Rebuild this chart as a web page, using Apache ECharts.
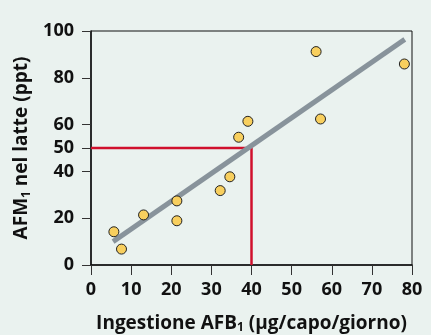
<!DOCTYPE html>
<html><head><meta charset="utf-8">
<script src="https://cdn.jsdelivr.net/npm/echarts@6/dist/echarts.min.js"></script>
<style>html,body{margin:0;padding:0;background:#EAF2EF;}#c{width:431px;height:335px;}</style>
</head><body><div id="c"></div>
<script>
var pointsX = [5.7, 7.6, 13.1, 21.4, 21.4, 32.2, 34.6, 36.8, 39.1, 56.1, 57.2, 78.1];
var pointsY = [14.2, 6.8, 21.4, 27.4, 18.9, 31.8, 37.7, 54.6, 61.4, 91.2, 62.4, 85.9];
var fitX = [5.5, 78.2];
var fitY = [10, 96.4];
var refX = [0, 40, 40];
var refY = [50, 50, 0];
var xTicks = [0, 10, 20, 30, 40, 50, 60, 70, 80];
var yTicks = [0, 20, 40, 50, 60, 80, 100];

function zip(a, b) { return a.map(function (v, i) { return [v, b[i]]; }); }

var font = 'Open Sans';
var chart = echarts.init(document.getElementById('c'));
chart.setOption({
  backgroundColor: '#EAF2EF',
  animation: false,
  grid: { left: 91, right: 19, top: 31, bottom: 70, show: true, borderColor: '#111', borderWidth: 1, backgroundColor: 'transparent', containLabel: false, outerBoundsMode: 'none' },
  xAxis: {
    type: 'value', min: 0, max: 80, interval: 10,
    axisLine: { lineStyle: { color: '#111', width: 1.5 } },
    axisTick: { length: 10, lineStyle: { color: '#333', width: 1 } },
    axisLabel: { margin: 16, color: '#111', fontFamily: font, fontWeight: 'bold', fontSize: 18, customValues: xTicks },
    splitLine: { show: false },
    name: 'Ingestione AFB{sub|1} (μg/capo/giorno)',
    nameLocation: 'middle', nameGap: 48,
    nameTextStyle: { color: '#111', fontFamily: font, fontWeight: 'bold', fontSize: 19,
      rich: { sub: { fontSize: 12, fontFamily: font, fontWeight: 'bold', color: '#111', padding: [9, 0, 0, 0] } } }
  },
  yAxis: {
    type: 'value', min: 0, max: 100, interval: 10,
    axisLine: { show: true, lineStyle: { color: '#111', width: 1.5 } },
    axisTick: { show: true, length: 9, customValues: yTicks, lineStyle: { color: '#333', width: 1 } },
    axisLabel: { margin: 17, color: '#111', fontFamily: font, fontWeight: 'bold', fontSize: 18, customValues: yTicks },
    splitLine: { show: false },
    name: 'AFM{sub|1} nel latte (ppt)',
    nameLocation: 'middle', nameGap: 54, nameRotate: 90,
    nameTextStyle: { color: '#111', fontFamily: font, fontWeight: 'bold', fontSize: 19,
      rich: { sub: { fontSize: 12, fontFamily: font, fontWeight: 'bold', color: '#111', padding: [9, 0, 0, 0] } } }
  },
  series: [
    { type: 'line', data: zip(refX, refY), symbol: 'none', lineStyle: { color: '#D0102C', width: 2.5 }, z: 2 },
    { type: 'line', data: zip(fitX, fitY), symbol: 'none', lineStyle: { color: '#88939B', width: 5 }, z: 3 },
    { type: 'scatter', data: zip(pointsX, pointsY), symbolSize: 10,
      itemStyle: { color: '#F8CF5E', borderColor: '#222', borderWidth: 1, opacity: 1 }, z: 4 }
  ]
});
</script></body></html>
